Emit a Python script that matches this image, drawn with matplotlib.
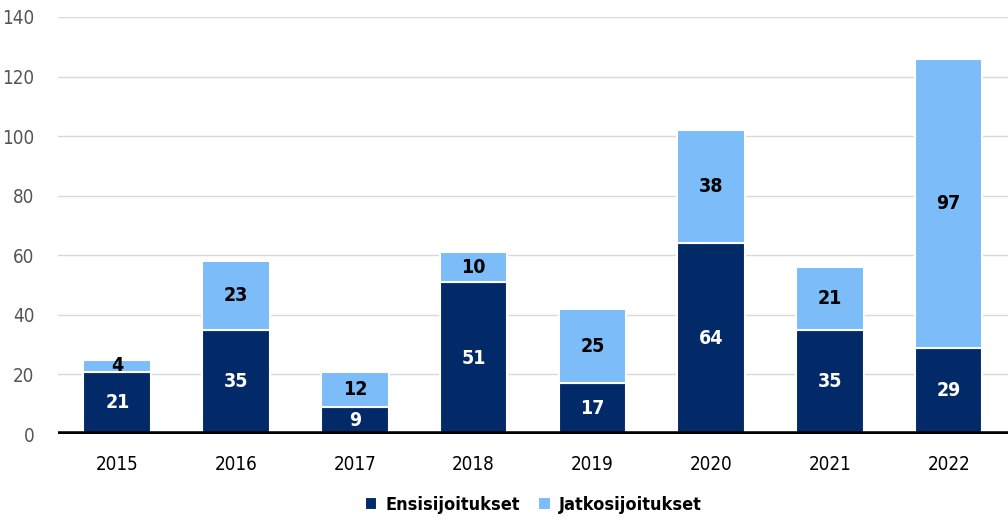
import matplotlib
matplotlib.use('Agg')
import matplotlib.pyplot as plt
from matplotlib import font_manager
import numpy as np

years = ['2015', '2016', '2017', '2018', '2019', '2020', '2021', '2022']
ensi = [21, 35, 9, 51, 17, 64, 35, 29]
jatko = [4, 23, 12, 10, 25, 38, 21, 97]
series_names = ['Ensisijoitukset', 'Jatkosijoitukset']

NAVY = '#022a68'
LIGHT = '#7bbcf9'

# condensed face if one is installed, else whatever is closest
names = {f.name for f in font_manager.fontManager.ttflist}
fam = 'Liberation Sans Narrow' if 'Liberation Sans Narrow' in names else 'DejaVu Sans'
plt.rcParams['font.family'] = [fam, 'DejaVu Sans']
plt.rcParams['font.stretch'] = 'condensed'

fig = plt.figure(figsize=(10.08, 5.30), dpi=100)
ax = fig.add_axes([0.0575, 0.181, 0.9425, 0.787])

x = np.arange(len(years))
w = 0.57
b1 = ax.bar(x, ensi, w, color=NAVY, edgecolor='white', linewidth=1.5,
            label=series_names[0], zorder=3)
b2 = ax.bar(x, jatko, w, bottom=ensi, color=LIGHT, edgecolor='white',
            linewidth=1.5, label=series_names[1], zorder=3)

for xi, e, j in zip(x, ensi, jatko):
    ax.text(xi, e / 2, str(e), ha='center', va='center', color='white',
            fontsize=14, fontweight='bold', zorder=4)
    ax.text(xi, e + j / 2, str(j), ha='center', va='center', color='black',
            fontsize=14, fontweight='bold', zorder=4)

ax.set_xlim(-0.5, len(years) - 0.5)
ax.set_ylim(0, 140)
ax.set_yticks(range(0, 141, 20))
ax.set_xticks(x)
ax.set_xticklabels(years)
ax.grid(axis='y', color='#d9d9d9', linewidth=1, zorder=0)
ax.axhline(0, color='black', linewidth=4, zorder=5)
for s in ax.spines.values():
    s.set_visible(False)
ax.tick_params(axis='both', length=0, labelsize=13.5)
ax.tick_params(axis='y', colors='#555555', pad=17)
ax.tick_params(axis='x', colors='black', pad=15)

leg = fig.legend(handles=[b1, b2], loc='lower center', bbox_to_anchor=(0.529, 0.0),
                 ncol=2, frameon=False, handlelength=0.7, handleheight=0.7,
                 handletextpad=0.45, columnspacing=1.0,
                 prop={'size': 13, 'weight': 'bold', 'stretch': 'condensed'})

fig.savefig('out.png', dpi=100)
